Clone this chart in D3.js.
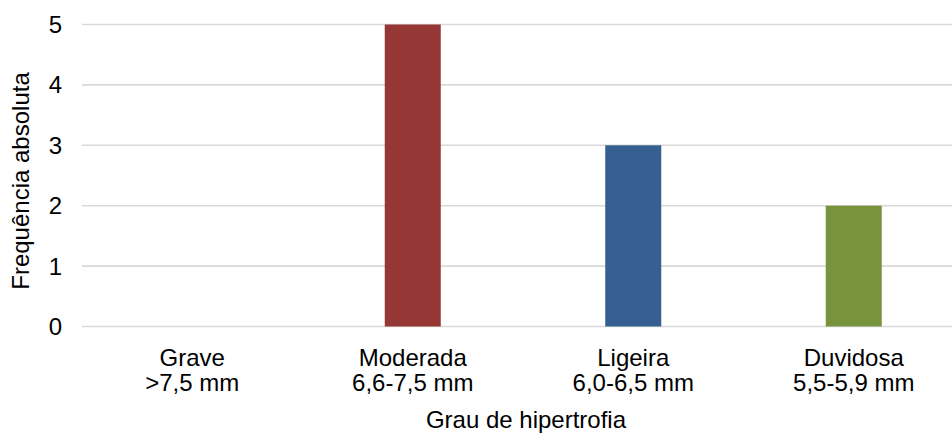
<!DOCTYPE html>
<html>
<head>
<meta charset="utf-8">
<script src="https://cdn.jsdelivr.net/npm/d3@7"></script>
<style>
  html, body { margin: 0; padding: 0; background: #fff; }
  svg { display: block; font-family: "Liberation Sans", Arial, sans-serif; }
</style>
</head>
<body>
<svg id="chart" width="952" height="434"></svg>
<script>
// Hypertrophy grade categories (name, range) and absolute frequencies
const categoryNames = ["Grave", "Moderada", "Ligeira", "Duvidosa"];
const categoryRanges = [">7,5 mm", "6,6-7,5 mm", "6,0-6,5 mm", "5,5-5,9 mm"];
const frequencies = [0, 5, 3, 2];
const barColors = ["#953735", "#953735", "#376092", "#77933C"];
const yTicks = [0, 1, 2, 3, 4, 5];
const yTitle = "Frequência absoluta";
const xTitle = "Grau de hipertrofia";

const svg = d3.select("#chart");
const plotLeft = 82, plotTop = 24.5, plotBottom = 326.5, step = 220.5;
const fontSize = 24;

const x = d3.scaleBand()
  .domain(categoryNames)
  .range([plotLeft, plotLeft + step * categoryNames.length])
  .paddingInner(0.746)
  .paddingOuter(0.373);

const y = d3.scaleLinear().domain([0, 5]).range([plotBottom, plotTop]);

// Horizontal gridlines
svg.append("g")
  .selectAll("line")
  .data(yTicks)
  .join("line")
  .attr("x1", plotLeft)
  .attr("x2", 952)
  .attr("y1", d => y(d))
  .attr("y2", d => y(d))
  .attr("stroke", "#d9d9d9")
  .attr("stroke-width", 1.6);

// Y axis labels
svg.append("g")
  .selectAll("text")
  .data(yTicks)
  .join("text")
  .attr("x", 62)
  .attr("y", d => y(d))
  .attr("dy", "0.35em")
  .attr("text-anchor", "end")
  .attr("font-size", fontSize)
  .attr("fill", "#000")
  .text(d => d);

// Bars
svg.append("g")
  .selectAll("rect")
  .data(frequencies)
  .join("rect")
  .attr("x", (d, i) => x(categoryNames[i]))
  .attr("width", x.bandwidth())
  .attr("y", d => y(d))
  .attr("height", d => y(0) - y(d))
  .attr("fill", (d, i) => barColors[i]);

// Category labels (two lines)
const cat = svg.append("g")
  .selectAll("text")
  .data(categoryNames)
  .join("text")
  .attr("text-anchor", "middle")
  .attr("font-size", fontSize)
  .attr("fill", "#000");
cat.append("tspan")
  .attr("x", d => x(d) + x.bandwidth() / 2)
  .attr("y", 366)
  .text(d => d);
cat.append("tspan")
  .attr("x", d => x(d) + x.bandwidth() / 2)
  .attr("y", 391)
  .text((d, i) => categoryRanges[i]);

// Axis titles
svg.append("text")
  .attr("x", 526)
  .attr("y", 428)
  .attr("text-anchor", "middle")
  .attr("font-size", fontSize)
  .attr("fill", "#000")
  .text(xTitle);

svg.append("text")
  .attr("transform", "translate(29,181) rotate(-90)")
  .attr("text-anchor", "middle")
  .attr("font-size", fontSize)
  .attr("fill", "#000")
  .text(yTitle);
</script>
</body>
</html>
